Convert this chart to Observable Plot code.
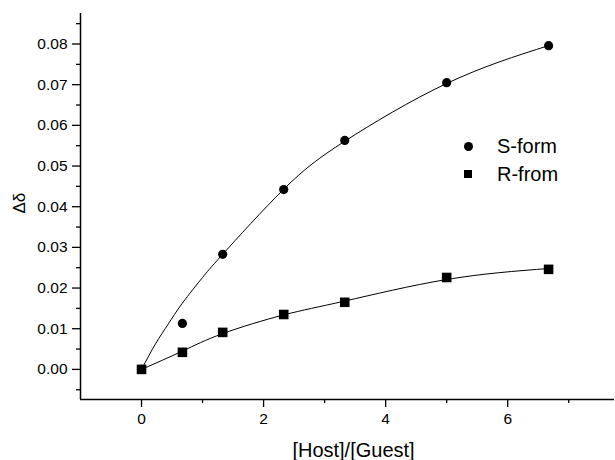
<!DOCTYPE html>
<html>
<head>
<meta charset="utf-8">
<script src="https://cdn.jsdelivr.net/npm/d3@7"></script>
<script src="https://cdn.jsdelivr.net/npm/@observablehq/plot@0.6"></script>
<style>
  html, body { margin: 0; padding: 0; background: #fff; }
  #wrap { position: relative; width: 615px; height: 460px; font-family: "Liberation Sans", Arial, sans-serif; }
  #legend { position: absolute; left: 462px; top: 132px; font-size: 20px; color: #000; line-height: 28px; }
  #legend .row { display: flex; align-items: center; height: 28px; }
  #legend .sym { width: 12px; height: 12px; display: inline-flex; align-items: center; justify-content: center; margin-right: 23px; }
  #legend .circ { width: 9px; height: 9px; border-radius: 50%; background: #000; }
  #legend .sq { width: 8px; height: 8px; background: #000; }
</style>
</head>
<body>
<div id="wrap"></div>
<script>
// Data
const hostGuest = [0, 0.67, 1.33, 2.33, 3.33, 5.0, 6.67];
const sForm = [0, 0.0113, 0.0283, 0.0442, 0.0563, 0.0705, 0.0796];
const rForm = [0, 0.0042, 0.0091, 0.0135, 0.0165, 0.0226, 0.0246];
// fitted curves
const sFitX = [0, 0.23, 0.44, 0.67, 1.0, 1.33, 2.33, 3.33, 5.0, 6.67];
const sFitY = [0, 0.0063, 0.0112, 0.0163, 0.0226, 0.0283, 0.0443, 0.0561, 0.0703, 0.0796];
const rFitX = [0, 0.67, 1.33, 2.33, 3.33, 5.0, 6.67];
const rFitY = [0, 0.0045, 0.0088, 0.0134, 0.0168, 0.0221, 0.0248];
const xTicks = [0, 2, 4, 6];
const xMinor = [-1, 1, 3, 5, 7];
const yTicks = [0, 0.01, 0.02, 0.03, 0.04, 0.05, 0.06, 0.07, 0.08];
const yMinor = [-0.005, 0.005, 0.015, 0.025, 0.035, 0.045, 0.055, 0.065, 0.075, 0.085];
const xDomain = [-1, 7.75];
const yDomain = [-0.0074, 0.0875];
const seriesNames = ["S-form", "R-from"];
const xLabel = "[Host]/[Guest]";
const yLabel = "Δδ";

const pts = (xs, ys, s) => xs.map((x, i) => ({x, y: ys[i], s}));
const sPts = pts(hostGuest, sForm, seriesNames[0]);
const rPts = pts(hostGuest, rForm, seriesNames[1]);
const sFit = pts(sFitX, sFitY, seriesNames[0]);
const rFit = pts(rFitX, rFitY, seriesNames[1]);

const chart = Plot.plot({
  width: 615,
  height: 460,
  marginLeft: 80,
  marginRight: 1,
  marginTop: 13,
  marginBottom: 61,
  style: {fontFamily: "'Liberation Sans', Arial, sans-serif", fontSize: "15px", color: "#000", background: "#fff"},
  x: {domain: xDomain},
  y: {domain: yDomain},
  marks: [
    Plot.ruleX([xDomain[0]], {stroke: "#000", strokeWidth: 1.5}),
    Plot.ruleY([yDomain[0]], {stroke: "#000", strokeWidth: 1.5}),
    Plot.axisY({ticks: yTicks, tickSize: 8, tickPadding: 5, tickFormat: ".2f", label: null, strokeWidth: 1.3, fontSize: 15.5}),
    Plot.axisY({ticks: yMinor, tickSize: 4, tickFormat: () => "", label: null, strokeWidth: 1.3}),
    Plot.axisX({ticks: xTicks, tickSize: 8, tickPadding: 5, tickFormat: d => String(d), label: null, strokeWidth: 1.3, fontSize: 15.5}),
    Plot.axisX({ticks: xMinor.filter(d => d > xDomain[0]), tickSize: 4, tickFormat: () => "", label: null, strokeWidth: 1.3}),
    Plot.line(sFit, {x: "x", y: "y", curve: "natural", stroke: "#000", strokeWidth: 1}),
    Plot.line(rFit, {x: "x", y: "y", curve: "natural", stroke: "#000", strokeWidth: 1}),
    Plot.dot(sPts, {x: "x", y: "y", symbol: "circle", r: 4.6, fill: "#000", stroke: "none"}),
    Plot.dot(rPts, {x: "x", y: "y", symbol: "square", r: 5.4, fill: "#000", stroke: "none"}),
    Plot.text([xLabel], {text: d => d, frameAnchor: "bottom", dx: 6, dy: 57, fontSize: 20, lineAnchor: "bottom"}),
    Plot.text([yLabel], {text: d => d, frameAnchor: "left", dx: -61, dy: 7, rotate: -90, fontSize: 17})
  ]
});

const wrap = document.getElementById("wrap");
wrap.appendChild(chart);

const legend = document.createElement("div");
legend.id = "legend";
legend.innerHTML = seriesNames.map((n, i) =>
  `<div class="row"><span class="sym"><span class="${i === 0 ? "circ" : "sq"}"></span></span><span>${n}</span></div>`
).join("");
wrap.appendChild(legend);
</script>
</body>
</html>
